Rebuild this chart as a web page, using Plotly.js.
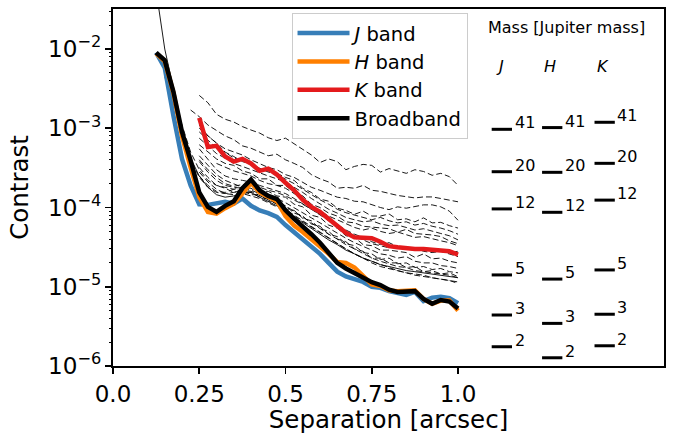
<!DOCTYPE html>
<html>
<head>
<meta charset="utf-8">
<script src="https://cdn.plot.ly/plotly-3.0.1.min.js"></script>
<style>html,body{margin:0;padding:0;background:#fff;}#chart{width:678px;height:434px;}</style>
</head>
<body>
<div id="chart"></div>
<script>
// Separation grid (arcsec)
const sep = [0.125,0.15,0.175,0.2,0.225,0.25,0.275,0.3,0.325,0.35,0.375,0.4,0.425,0.45,0.475,0.5,0.525,0.55,0.575,0.6,0.625,0.65,0.675,0.7,0.725,0.75,0.775,0.8,0.825,0.85,0.875,0.9,0.925,0.95,0.975,1.0];

// Band contrast curves
const jBand = [9.0e-3,5.8e-3,1.45e-3,4.1e-4,1.9e-4,1.1e-4,1.08e-4,1.12e-4,1.18e-4,1.12e-4,1.3e-4,1.05e-4,9.2e-5,8.5e-5,7.6e-5,6.0e-5,4.9e-5,3.9e-5,3.2e-5,2.6e-5,2.0e-5,1.55e-5,1.35e-5,1.25e-5,1.15e-5,1.0e-5,9.7e-6,8.8e-6,8.2e-6,7.9e-6,8.6e-6,6.6e-6,7.3e-6,7.5e-6,7.2e-6,6.2e-6];
const hBand = [8.8e-3,7.0e-3,2.8e-3,8.0e-4,3.2e-4,1.35e-4,8.8e-5,8.4e-5,9.8e-5,1.12e-4,1.5e-4,2.05e-4,1.55e-4,1.35e-4,1.2e-4,7.8e-5,5.9e-5,4.9e-5,4.0e-5,3.25e-5,2.6e-5,2.05e-5,2.0e-5,1.75e-5,1.35e-5,1.07e-5,1.02e-5,9.0e-6,8.8e-6,8.9e-6,9.0e-6,7.0e-6,6.1e-6,6.7e-6,6.7e-6,5.0e-6];
const kBand = [1.35e-3,5.8e-4,6.0e-4,4.4e-4,3.8e-4,4.1e-4,3.6e-4,2.9e-4,3.1e-4,2.6e-4,2.05e-4,1.65e-4,1.25e-4,1.02e-4,8.8e-5,7.2e-5,5.7e-5,4.8e-5,4.2e-5,4.1e-5,4.1e-5,3.7e-5,3.25e-5,3.15e-5,3.05e-5,3.0e-5,3.0e-5,2.95e-5,2.92e-5,2.8e-5,2.55e-5];
const broadband = [9.0e-3,7.2e-3,2.9e-3,9.0e-4,3.9e-4,1.55e-4,1.02e-4,8.8e-5,1.05e-4,1.2e-4,1.75e-4,2.25e-4,1.65e-4,1.4e-4,1.28e-4,9.2e-5,7.2e-5,5.8e-5,4.6e-5,3.6e-5,2.7e-5,2.0e-5,1.7e-5,1.5e-5,1.3e-5,1.14e-5,1.05e-5,9.2e-6,8.6e-6,8.6e-6,8.8e-6,7.0e-6,6.1e-6,6.8e-6,6.5e-6,5.3e-6];

// Thin solid curve
const thinSolid = [5.5e-2,1.0e-2,3.2e-3,9.5e-4,4.2e-4,2.5e-4,1.8e-4,1.45e-4,1.35e-4,1.4e-4,1.5e-4,1.55e-4,1.35e-4,1.2e-4,1.05e-4,9.0e-5,7.6e-5,6.4e-5,5.4e-5,4.6e-5,3.9e-5,3.4e-5,2.9e-5,2.6e-5,2.3e-5,2.1e-5,1.9e-5,1.8e-5,1.7e-5,1.6e-5,1.55e-5,1.5e-5,1.45e-5,1.4e-5,1.35e-5,1.3e-5];

// Thin dashed curves (each ends at sep = 1.0)
const dash1 = [2.6e-3,2.1e-3,1.5e-3,1.3e-3,1.2e-3,1.05e-3,9.5e-4,8.7e-4,7.6e-4,7.0e-4,7.5e-4,6.4e-4,5.4e-4,4.6e-4,3.7e-4,4.1e-4,3.8e-4,3.0e-4,3.3e-4,3.5e-4,3.4e-4,2.8e-4,3.1e-4,2.9e-4,2.7e-4,3.0e-4,2.85e-4,2.55e-4,2.7e-4,2.45e-4,1.9e-4];
const dash2 = [1.7e-3,1.4e-3,1.1e-3,9.5e-4,8.0e-4,7.2e-4,6.0e-4,5.6e-4,5.0e-4,4.5e-4,4.7e-4,4.0e-4,3.6e-4,3.2e-4,2.6e-4,2.3e-4,2.1e-4,1.75e-4,1.8e-4,1.75e-4,1.9e-4,1.65e-4,1.6e-4,1.5e-4,1.42e-4,1.37e-4,1.32e-4,1.36e-4,1.36e-4,1.3e-4,1.25e-4,1.18e-4];
const dash3 = [1.0e-3,8.0e-4,6.5e-4,5.5e-4,5.0e-4,4.6e-4,4.0e-4,3.6e-4,3.2e-4,3.0e-4,2.6e-4,2.4e-4,2.1e-4,1.8e-4,1.65e-4,1.5e-4,1.35e-4,1.3e-4,1.2e-4,1.18e-4,1.08e-4,1.0e-4,9.4e-5,1.02e-4,9.8e-5,1.04e-4,1.08e-4,1.08e-4,1.02e-4,9.0e-5,6.9e-5];
const dash4 = [9.0e-4,7.0e-4,5.6e-4,5.0e-4,4.2e-4,3.9e-4,3.7e-4,3.0e-4,2.9e-4,2.7e-4,2.4e-4,2.2e-4,1.75e-4,1.55e-4,1.28e-4,1.2e-4,9.8e-5,9.2e-5,8.2e-5,9.0e-5,7.8e-5,7.8e-5,8.3e-5,7.0e-5,7.2e-5,6.6e-5,7.4e-5,6.4e-5,6.5e-5,5.9e-5,5.5e-5];
const dash5 = [7.5e-4,6.0e-4,4.8e-4,4.2e-4,3.6e-4,3.3e-4,3.0e-4,2.7e-4,2.5e-4,2.3e-4,2.1e-4,1.8e-4,1.55e-4,1.3e-4,1.1e-4,9.5e-5,8.5e-5,7.5e-5,7.0e-5,6.6e-5,6.8e-5,6.2e-5,5.9e-5,6.0e-5,5.6e-5,5.2e-5,5.4e-5,5.0e-5,4.7e-5,4.4e-5,3.9e-5];
const dash6 = [6.2e-4,5.0e-4,4.1e-4,3.6e-4,3.4e-4,2.9e-4,2.7e-4,2.3e-4,2.3e-4,1.9e-4,1.9e-4,1.55e-4,1.4e-4,1.1e-4,1.0e-4,8.5e-5,7.8e-5,6.6e-5,6.4e-5,5.8e-5,5.7e-5,5.6e-5,5.4e-5,4.9e-5,5.3e-5,4.7e-5,4.6e-5,4.5e-5,4.3e-5,3.8e-5,3.5e-5];
const dash7 = [1.1e-3,8.0e-4,6.5e-4,5.0e-4,4.4e-4,3.8e-4,3.5e-4,3.1e-4,2.8e-4,2.6e-4,2.3e-4,2.0e-4,1.7e-4,1.45e-4,1.25e-4,1.1e-4,9.5e-5,8.6e-5,8.0e-5,7.4e-5,7.0e-5,7.5e-5,6.8e-5,6.4e-5,6.6e-5,6.0e-5,6.3e-5,5.8e-5,5.5e-5,5.1e-5,4.6e-5];
const dash8 = [3.6e-4,3.2e-4,2.9e-4,2.7e-4,2.5e-4,2.2e-4,2.0e-4,1.9e-4,1.75e-4,1.5e-4,1.25e-4,1.05e-4,9.0e-5,7.8e-5,7.0e-5,6.3e-5,5.6e-5,5.2e-5,5.5e-5,5.0e-5,4.7e-5,4.9e-5,4.5e-5,4.2e-5,4.3e-5,4.0e-5,3.8e-5,3.6e-5,3.3e-5];
const dash9 = [5.5e-4,4.0e-4,3.0e-4,2.5e-4,2.3e-4,2.2e-4,2.1e-4,1.9e-4,1.75e-4,1.6e-4,1.5e-4,1.3e-4,1.1e-4,9.5e-5,8.2e-5,7.0e-5,6.0e-5,5.2e-5,4.6e-5,4.2e-5,3.7e-5,3.4e-5,3.6e-5,3.2e-5,3.0e-5,3.1e-5,2.8e-5,2.7e-5,2.8e-5,2.6e-5,2.4e-5];
const dash10 = [4.5e-4,3.4e-4,2.6e-4,2.2e-4,2.0e-4,1.8e-4,1.95e-4,1.6e-4,1.6e-4,1.4e-4,1.35e-4,1.1e-4,1.02e-4,8.0e-5,7.5e-5,6.0e-5,5.5e-5,4.4e-5,4.2e-5,3.4e-5,3.3e-5,2.9e-5,2.9e-5,2.8e-5,2.7e-5,2.35e-5,2.6e-5,2.25e-5,2.3e-5,2.1e-5,2.0e-5];
const dash11 = [3.8e-4,2.8e-4,2.2e-4,1.9e-4,1.8e-4,1.75e-4,1.65e-4,1.5e-4,1.4e-4,1.3e-4,1.15e-4,1.0e-4,8.6e-5,7.4e-5,6.4e-5,5.5e-5,4.7e-5,4.1e-5,3.6e-5,3.2e-5,2.9e-5,2.6e-5,2.5e-5,2.3e-5,2.4e-5,2.1e-5,2.0e-5,2.0e-5,1.85e-5,1.8e-5,1.7e-5];
const dash12 = [3.2e-4,2.4e-4,1.9e-4,1.75e-4,1.55e-4,1.65e-4,1.45e-4,1.45e-4,1.2e-4,1.2e-4,9.6e-5,9.2e-5,7.3e-5,6.8e-5,5.4e-5,5.0e-5,4.0e-5,3.7e-5,3.0e-5,2.8e-5,2.3e-5,2.3e-5,2.0e-5,2.0e-5,1.75e-5,1.8e-5,1.55e-5,1.6e-5,1.45e-5,1.5e-5,1.34e-5];
const dash13 = [2.8e-4,2.1e-4,1.7e-4,1.5e-4,1.45e-4,1.5e-4,1.4e-4,1.3e-4,1.15e-4,1.02e-4,9.0e-5,7.8e-5,6.6e-5,5.6e-5,4.8e-5,4.1e-5,3.5e-5,3.0e-5,2.6e-5,2.3e-5,2.0e-5,1.8e-5,1.7e-5,1.6e-5,1.5e-5,1.4e-5,1.35e-5,1.3e-5,1.25e-5,1.2e-5,1.1e-5];
const dash14 = [2.5e-4,1.9e-4,1.6e-4,1.55e-4,1.7e-4,1.6e-4,1.55e-4,1.35e-4,1.3e-4,1.1e-4,1.05e-4,8.5e-5,7.8e-5,6.2e-5,5.8e-5,4.6e-5,4.3e-5,3.5e-5,3.3e-5,2.7e-5,2.6e-5,2.2e-5,2.3e-5,1.95e-5,2.0e-5,1.75e-5,1.8e-5,1.65e-5,1.7e-5,1.55e-5,1.5e-5];
const dash15 = [4.0e-4,3.0e-4,2.4e-4,2.0e-4,1.85e-4,1.95e-4,1.9e-4,1.8e-4,1.65e-4,1.55e-4,1.4e-4,1.25e-4,1.1e-4,9.5e-5,8.0e-5,6.8e-5,5.8e-5,5.0e-5,4.4e-5,3.9e-5,3.5e-5,3.3e-5,3.1e-5,3.3e-5,3.0e-5,2.9e-5,3.0e-5,2.8e-5,2.9e-5,2.7e-5,2.8e-5];
const dash16 = [5.5e-3,2.6e-3,1.1e-3,5.0e-4,3.0e-4,2.2e-4,1.9e-4,1.8e-4,1.7e-4,1.8e-4,1.75e-4,1.5e-4,1.35e-4,1.2e-4,1.05e-4,9.0e-5,7.6e-5,6.4e-5,5.4e-5,4.6e-5,4.0e-5,3.4e-5,3.0e-5,2.6e-5,2.3e-5,2.1e-5,1.95e-5,1.8e-5,1.75e-5,1.6e-5,1.55e-5,1.5e-5,1.45e-5,1.4e-5,1.3e-5];
const dash17 = [4.5e-3,2.0e-3,8.5e-4,4.0e-4,2.4e-4,1.8e-4,1.55e-4,1.5e-4,1.55e-4,1.65e-4,1.6e-4,1.4e-4,1.25e-4,1.1e-4,9.5e-5,8.0e-5,6.8e-5,5.7e-5,4.8e-5,4.1e-5,3.5e-5,3.0e-5,2.6e-5,2.3e-5,2.1e-5,1.9e-5,1.75e-5,1.6e-5,1.5e-5,1.45e-5,1.4e-5,1.3e-5,1.25e-5,1.2e-5,1.15e-5];

// Mass limits (contrast) per band
const massLabels = ['41','20','12','5','3','2'];
const massJ = [9.7e-4,2.83e-4,9.6e-5,1.41e-5,4.4e-6,1.75e-6];
const massH = [1.02e-3,2.78e-4,8.7e-5,1.25e-5,3.45e-6,1.27e-6];
const massK = [1.19e-3,3.61e-4,1.24e-4,1.63e-5,4.5e-6,1.8e-6];

const xTickVals = [0, 0.25, 0.5, 0.75, 1.0];
const xTickText = ['0.0', '0.25', '0.5', '0.75', '1.0'];
const yMinorTicks = [2e-6,3e-6,4e-6,5e-6,6e-6,7e-6,8e-6,9e-6,2e-5,3e-5,4e-5,5e-5,6e-5,7e-5,8e-5,9e-5,2e-4,3e-4,4e-4,5e-4,6e-4,7e-4,8e-4,9e-4,2e-3,3e-3,4e-3,5e-3,6e-3,7e-3,8e-3,9e-3,2e-2,3e-2];

// ---- build ----
const FONT = 'DejaVu Sans, sans-serif';
const Y_RANGE = [-6, -1.495];
function tail(arr) { return sep.slice(sep.length - arr.length); }

const traces = [];
const dashed = [dash1,dash2,dash3,dash4,dash5,dash6,dash7,dash8,dash9,dash10,dash11,dash12,dash13,dash14,dash15,dash16,dash17];
dashed.forEach(d => traces.push({
  x: tail(d), y: d, type: 'scatter', mode: 'lines', showlegend: false, hoverinfo: 'skip',
  line: {color: 'black', width: 0.9, dash: '6px,3px'}
}));
traces.push({x: tail(thinSolid), y: thinSolid, type: 'scatter', mode: 'lines', showlegend: false,
  line: {color: 'black', width: 0.9}});

traces.push({x: tail(jBand), y: jBand, name: '<i>J</i> band', type: 'scatter', mode: 'lines',
  line: {color: '#377eb8', width: 4.5}});
traces.push({x: tail(hBand), y: hBand, name: '<i>H</i> band', type: 'scatter', mode: 'lines',
  line: {color: '#ff7f00', width: 4.5}});
traces.push({x: tail(kBand), y: kBand, name: '<i>K</i> band', type: 'scatter', mode: 'lines',
  line: {color: '#e41a1c', width: 4.5}});
traces.push({x: tail(broadband), y: broadband, name: 'Broadband', type: 'scatter', mode: 'lines',
  line: {color: 'black', width: 4.5}});

// Mass markers (drawn on the overlaid log axis with identical range, which also carries the minor ticks)
const colX = [1.127, 1.273, 1.425];
const colName = ['J', 'H', 'K'];
const colVals = [massJ, massH, massK];
const annotations = [];
colVals.forEach((vals, i) => {
  traces.push({x: vals.map(() => colX[i]), y: vals, yaxis: 'y2', type: 'scatter', mode: 'markers',
    showlegend: false, cliponaxis: false, hoverinfo: 'skip',
    marker: {symbol: 'line-ew', size: 14.5, color: 'black', line: {color: 'black', width: 3}}});
  vals.forEach((v, k) => annotations.push({
    x: colX[i] + 0.031, y: Math.log10(v), xref: 'x', yref: 'y', text: massLabels[k],
    showarrow: false, xanchor: 'left', yanchor: 'bottom', yshift: -5,
    font: {family: FONT, size: 16, color: 'black'}
  }));
  annotations.push({x: colX[i] - 0.005, y: 0.84, xref: 'x', yref: 'paper', text: '<i>' + colName[i] + '</i>',
    showarrow: false, xanchor: 'center', yanchor: 'middle', font: {family: FONT, size: 16, color: 'black'}});
});
annotations.push({x: 1.314, y: 0.947, xref: 'x', yref: 'paper', text: 'Mass [Jupiter mass]',
  showarrow: false, xanchor: 'center', yanchor: 'middle', font: {family: FONT, size: 16, color: 'black'}});

const layout = {
  width: 678, height: 434,
  margin: {l: 113, r: 14, t: 9, b: 68},
  paper_bgcolor: 'white', plot_bgcolor: 'white',
  font: {family: FONT, color: 'black'},
  showlegend: true,
  xaxis: {
    range: [0, 1.597], tickmode: 'array', tickvals: xTickVals, ticktext: xTickText,
    ticks: 'outside', ticklen: 6, tickwidth: 1.6, tickcolor: 'black',
    showline: true, linewidth: 2, linecolor: 'black', mirror: true,
    showgrid: false, zeroline: false,
    tickfont: {family: FONT, size: 23, color: 'black'},
    title: {text: 'Separation [arcsec]', font: {family: FONT, size: 24.5, color: 'black'}, standoff: 5}
  },
  yaxis: {
    type: 'log', range: Y_RANGE, tickmode: 'linear', tick0: 0, dtick: 1,
    exponentformat: 'power',
    ticks: 'outside', ticklen: 6, tickwidth: 1.6, tickcolor: 'black',
    showline: true, linewidth: 2, linecolor: 'black', mirror: true,
    showgrid: false, zeroline: false,
    tickfont: {family: FONT, size: 18.5, color: 'black'},
    title: {text: 'Contrast', font: {family: FONT, size: 24.5, color: 'black'}, standoff: 12}
  },
  yaxis2: {
    type: 'log', range: Y_RANGE, overlaying: 'y', side: 'left', anchor: 'x',
    tickmode: 'array', tickvals: yMinorTicks, showticklabels: false,
    ticks: 'outside', ticklen: 3.5, tickwidth: 1, tickcolor: 'black',
    showline: false, showgrid: false, zeroline: false
  },
  legend: {
    x: 0.324, y: 0.989, xanchor: 'left', yanchor: 'top',
    bgcolor: 'rgba(255,255,255,0.8)', bordercolor: '#cccccc', borderwidth: 1,
    font: {family: FONT, size: 19.5, color: 'black'},
    itemwidth: 52, tracegroupgap: 0
  },
  annotations: annotations
};

Plotly.newPlot('chart', traces, layout, {displayModeBar: false, staticPlot: true});
</script>
</body>
</html>
